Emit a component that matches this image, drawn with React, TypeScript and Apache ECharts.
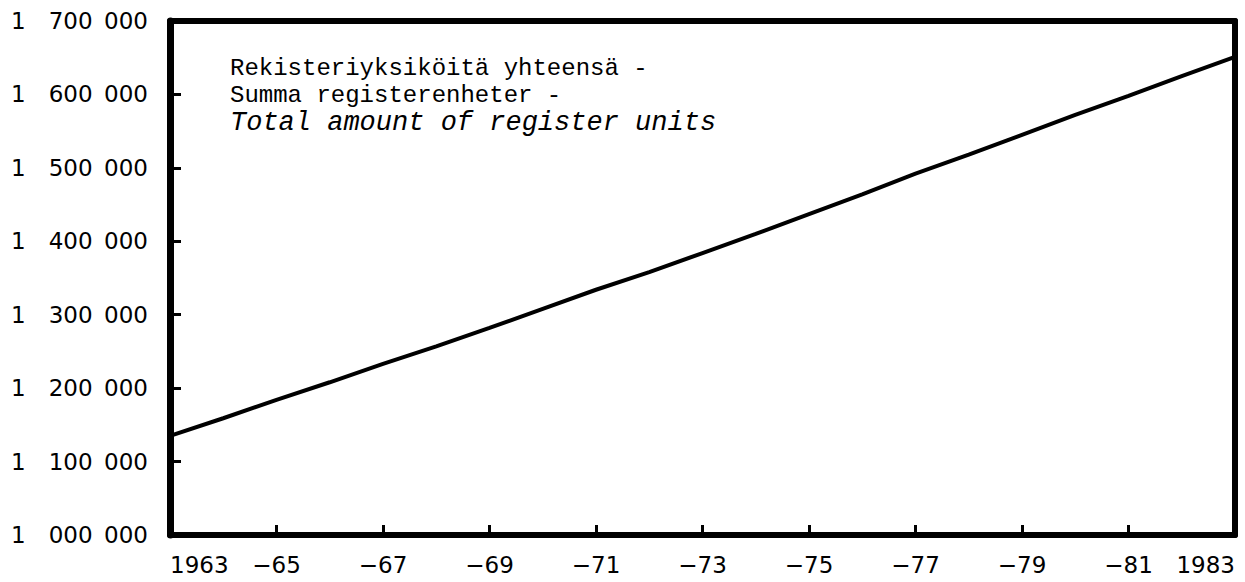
import React, { useEffect, useRef } from "react";
import * as echarts from "echarts";

const years = [
  "1963", "1964", "1965", "1966", "1967", "1968", "1969", "1970", "1971", "1972",
  "1973", "1974", "1975", "1976", "1977", "1978", "1979", "1980", "1981", "1982", "1983",
];
const registerUnits = [
  1135000, 1159000, 1184000, 1208000, 1233000, 1257000, 1282000, 1308000, 1334000, 1358000,
  1384000, 1410000, 1437000, 1464000, 1492000, 1518000, 1545000, 1572000, 1598000, 1625000, 1651000,
];
const yMin = 1000000;
const yMax = 1700000;
const yStep = 100000;
const labelLines = [
  "Rekisteriyksiköitä yhteensä -",
  "Summa registerenheter -",
  "Total amount of register units",
];

function fmtY(v: number): string {
  const s = String(Math.round(v));
  const a = s.slice(0, s.length - 6);
  const b = s.slice(s.length - 6, s.length - 3);
  const c = s.slice(s.length - 3);
  return a + "\u2003" + b + "\u2002" + c;
}

function fmtX(v: string): string {
  if (v === years[0] || v === years[years.length - 1]) return v;
  return "\u2212" + v.slice(2);
}

export default function App() {
  const ref = useRef<HTMLDivElement>(null);
  useEffect(() => {
    if (!ref.current) return;
    const chart = echarts.init(ref.current, null, { renderer: "svg" });
    const labelFont = "'DejaVu Sans', sans-serif";
    const frameLine = { show: true, lineStyle: { color: "#000", width: 6 } };
    chart.setOption({
      animation: false,
      backgroundColor: "#fff",
      grid: {
        left: 170,
        right: 10,
        top: 21,
        bottom: 47,
        show: false,
      },
      xAxis: [
        {
          type: "category",
          data: years,
          boundaryGap: false,
          position: "bottom",
          axisLine: frameLine,
          axisTick: {
            show: true,
            inside: true,
            length: 10,
            lineStyle: { color: "#000", width: 3 },
            interval: 1,
          },
          axisLabel: {
            interval: 1,
            formatter: fmtX,
            color: "#000",
            fontFamily: labelFont,
            fontSize: 23,
            margin: 18,
            alignMinLabel: "left",
            alignMaxLabel: "right",
          },
          splitLine: { show: false },
        },
        {
          type: "category",
          data: years,
          boundaryGap: false,
          position: "top",
          axisLine: frameLine,
          axisTick: { show: false },
          axisLabel: { show: false },
          splitLine: { show: false },
        },
      ],
      yAxis: [
        {
          type: "value",
          min: yMin,
          max: yMax,
          interval: yStep,
          position: "left",
          axisLine: { show: true, lineStyle: { color: "#000", width: 7 } },
          axisTick: {
            show: true,
            inside: false,
            length: -11,
            lineStyle: { color: "#000", width: 3 },
          },
          axisLabel: {
            formatter: fmtY,
            color: "#000",
            fontFamily: labelFont,
            fontSize: 23,
            margin: 22,
          },
          splitLine: { show: false },
        },
        {
          type: "value",
          min: yMin,
          max: yMax,
          interval: yStep,
          position: "right",
          axisLine: frameLine,
          axisTick: { show: false },
          axisLabel: { show: false },
          splitLine: { show: false },
        },
      ],
      series: [
        {
          type: "line",
          data: registerUnits,
          symbol: "none",
          lineStyle: { color: "#000", width: 4 },
          z: 3,
        },
      ],
      graphic: labelLines.map((t, i) => ({
        type: "text",
        x: 230,
        y: 68 + i * 27.5,
        style: {
          text: t,
          fill: "#000",
          fontFamily: "'Liberation Mono', 'Courier New', monospace",
          fontSize: i === 2 ? 27 : 24,
          fontStyle: i === 2 ? "italic" : "normal",
          verticalAlign: "middle",
          align: "left",
        },
      })),
    });
    return () => chart.dispose();
  }, []);
  return (
    <div
      ref={ref}
      style={{ position: "absolute", left: 0, top: 0, width: 1245, height: 582 }}
    />
  );
}
